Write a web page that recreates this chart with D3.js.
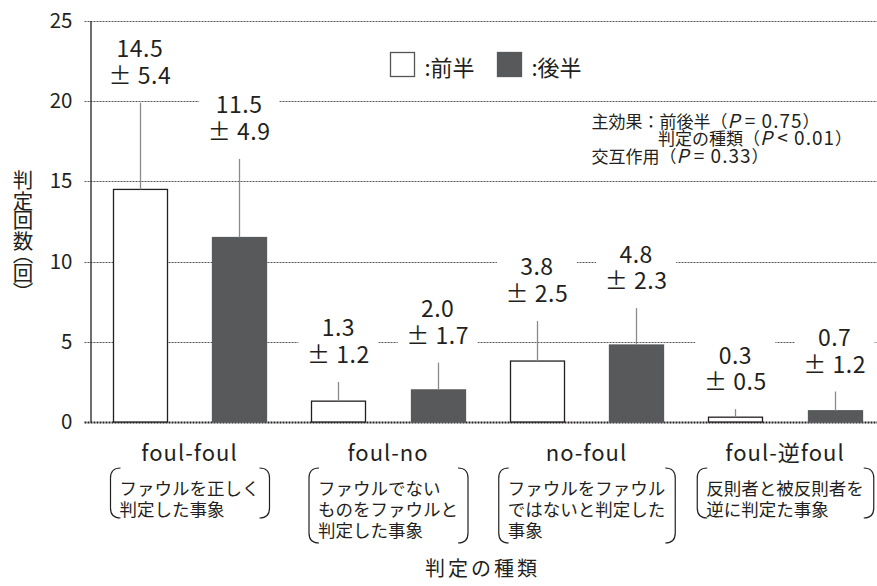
<!DOCTYPE html>
<html>
<head>
<meta charset="utf-8">
<script src="https://cdn.jsdelivr.net/npm/d3@7"></script>
<style>
  body { margin: 0; background: #fff; }
  svg { display: block; }
  text { font-family: "Noto Sans CJK JP", "Noto Sans", sans-serif; fill: #231f20; }
</style>
</head>
<body>
<svg id="chart" width="877" height="586"></svg>
<script>
// 判定の種類ごとの判定回数（平均 ± 標準偏差）
const categories = ["foul-foul", "foul-no", "no-foul", "foul-逆foul"];
const descriptions = [
  ["ファウルを正しく", "判定した事象"],
  ["ファウルでない", "ものをファウルと", "判定した事象"],
  ["ファウルをファウル", "ではないと判定した", "事象"],
  ["反則者と被反則者を", "逆に判定た事象"]
];
const halves = ["前半", "後半"];
const firstHalfMean = [14.5, 1.3, 3.8, 0.3];
const firstHalfSD = [5.4, 1.2, 2.5, 0.5];
const secondHalfMean = [11.5, 2.0, 4.8, 0.7];
const secondHalfSD = [4.9, 1.7, 2.3, 1.2];
const yTicks = [0, 5, 10, 15, 20, 25];
const statLabels = ["主効果：前後半", "判定の種類", "交互作用"];
const statOps = ["=", "<", "="];
const statP = ["0.75", "0.01", "0.33"];

const W = 877;
const svg = d3.select("#chart");
const axisX = 90.5;

const y = d3.scaleLinear().domain([0, 25]).range([422, 21]);
const x0 = d3.scaleBand().domain(categories).range([90.25, 884.25]);
const x1 = d3.scaleBand().domain([0, 1]).range([0, x0.bandwidth()])
  .paddingInner(0.4545).paddingOuter(0.227);

const rows = [];
categories.forEach((c, i) => {
  rows.push({ cat: c, half: 0, mean: firstHalfMean[i], sd: firstHalfSD[i] });
  rows.push({ cat: c, half: 1, mean: secondHalfMean[i], sd: secondHalfSD[i] });
});
const fills = ["#ffffff", "#58595b"];
const strokes = ["#231f20", "#58595b"];

// 点線のグリッド線（左側へ短く突き出す）
svg.append("g").selectAll("path").data(yTicks).join("path")
  .attr("d", d => `M${axisX - 6},${Math.round(y(d)) + 0.5}H${W}`)
  .attr("fill", "none")
  .attr("stroke", d => d === 0 ? "#231f20" : "#555")
  .attr("stroke-width", d => d === 0 ? 2 : 1)
  .attr("stroke-dasharray", "2,1");

// 目盛りラベル
const axis = d3.axisLeft(y).tickValues(yTicks).tickSize(0).tickPadding(18);
const ag = svg.append("g").attr("transform", `translate(${axisX},0)`).call(axis);
ag.select(".domain").remove();
ag.selectAll(".tick text")
  .style("font-size", "20.5px")
  .attr("fill", "#231f20");
svg.append("path")
  .attr("d", `M${axisX + 0.5},${y(25)}V${y(0)}`)
  .attr("stroke", "#231f20").attr("stroke-width", 1.3);

// 棒
const bx = d => x0(d.cat) + x1(d.half);
const cx = d => bx(d) + x1.bandwidth() / 2;
svg.append("g").selectAll("rect").data(rows).join("rect")
  .attr("x", d => Math.round(bx(d)) + 0.5)
  .attr("y", d => y(d.mean))
  .attr("width", Math.round(x1.bandwidth()))
  .attr("height", d => y(0) - y(d.mean))
  .attr("fill", d => fills[d.half])
  .attr("stroke", d => strokes[d.half])
  .attr("stroke-width", 1.3);

// エラーバー（上側のみ）
svg.append("g").selectAll("path").data(rows).join("path")
  .attr("d", d => `M${Math.round(cx(d)) + 0.5},${y(d.mean)}V${y(d.mean + d.sd)}`)
  .attr("stroke", "#8a8a8a").attr("stroke-width", 1.3);

// 平均 ± SD のラベル（背景を白で抜く）
const lab = svg.append("g").selectAll("g").data(rows).join("g")
  .attr("transform", d => `translate(${cx(d)},${y(d.mean + d.sd) - 19})`);
lab.append("rect")
  .attr("x", -40).attr("width", 80)
  .attr("y", -26.6 - 26).attr("height", 26.6 + 26 + 6)
  .attr("fill", "#fff");
const lt = lab.append("text")
  .attr("text-anchor", "middle")
  .style("font-size", "23px").style("letter-spacing", "0.5px");
lt.append("tspan").attr("x", 0).attr("y", -26.6).text(d => d.mean.toFixed(1));
lt.append("tspan").attr("x", 0).attr("y", 0).text(d => "± " + d.sd.toFixed(1));

// 凡例
const legendX = [390.5, 497.5];
const lg = svg.append("g").selectAll("g").data(halves).join("g")
  .attr("transform", (d, i) => `translate(${legendX[i]},52.5)`);
lg.append("rect").attr("width", 24).attr("height", 24)
  .attr("fill", (d, i) => fills[i])
  .attr("stroke", (d, i) => i === 0 ? "#555" : fills[1]).attr("stroke-width", 1.3);
lg.append("text").attr("x", 34).attr("y", 23)
  .style("font-size", "22px")
  .text(d => ":" + d);

// 統計結果
const stX = [591.5, 658, 591.5];
const stY = [127.5, 145, 162.5];
const st = svg.append("text").style("font-size", "17px");
statLabels.forEach((lbl, i) => {
  st.append("tspan").attr("x", stX[i]).attr("y", stY[i]).text(lbl + "（");
  st.append("tspan").style("font-style", "italic").style("font-size", "19px").text("P");
  st.append("tspan").style("font-size", "19px").style("letter-spacing", "1px")
    .text(" " + statOps[i] + " " + statP[i]);
  st.append("tspan").text("）");
});

// カテゴリー名と説明
const cg = svg.append("g").selectAll("g").data(categories).join("g")
  .attr("transform", c => `translate(${x0(c) + x0.bandwidth() / 2},0)`);
cg.append("text")
  .attr("text-anchor", "middle").attr("y", 461)
  .style("font-size", "22px").style("letter-spacing", "1px")
  .text(c => c);
cg.each(function (c, i) {
  const g = d3.select(this);
  const lines = descriptions[i];
  const block = g.append("text").style("font-size", "17.5px");
  lines.forEach((ln, k) => block.append("tspan").attr("x", 0).attr("y", 495 + k * 21).text(ln));
  const w = block.node().getBBox().width;
  const left = -w / 2;
  block.attr("transform", `translate(${left},0)`);
  const top = 468, bot = 468 + 25 * lines.length;
  const lx = left - 9, rx = left + w + 10, r = 10;
  g.append("path")
    .attr("d", `M${lx + r},${top} Q${lx},${top} ${lx},${top + r} L${lx},${bot - r} Q${lx},${bot} ${lx + r},${bot}`)
    .attr("fill", "none").attr("stroke", "#231f20").attr("stroke-width", 1.2);
  g.append("path")
    .attr("d", `M${rx - r},${top} Q${rx},${top} ${rx},${top + r} L${rx},${bot - r} Q${rx},${bot} ${rx - r},${bot}`)
    .attr("fill", "none").attr("stroke", "#231f20").attr("stroke-width", 1.2);
});

// 軸タイトル
svg.append("text")
  .attr("x", 482.5).attr("y", 576)
  .attr("text-anchor", "middle")
  .style("font-size", "20px").style("letter-spacing", "3px")
  .text("判定の種類");

// 縦書きの縦軸タイトル（括弧は縦書き用の字形）
const yTitle = ["判", "定", "回", "数", "︵", "回", "︶"];
const yTitleBase = [187.5, 208.5, 228, 248.5, 262, 281, 299.5];
const yt = svg.append("text").attr("text-anchor", "middle").style("font-size", "20.5px");
yTitle.forEach((ch, i) => yt.append("tspan").attr("x", 23).attr("y", yTitleBase[i]).text(ch));
</script>
</body>
</html>
